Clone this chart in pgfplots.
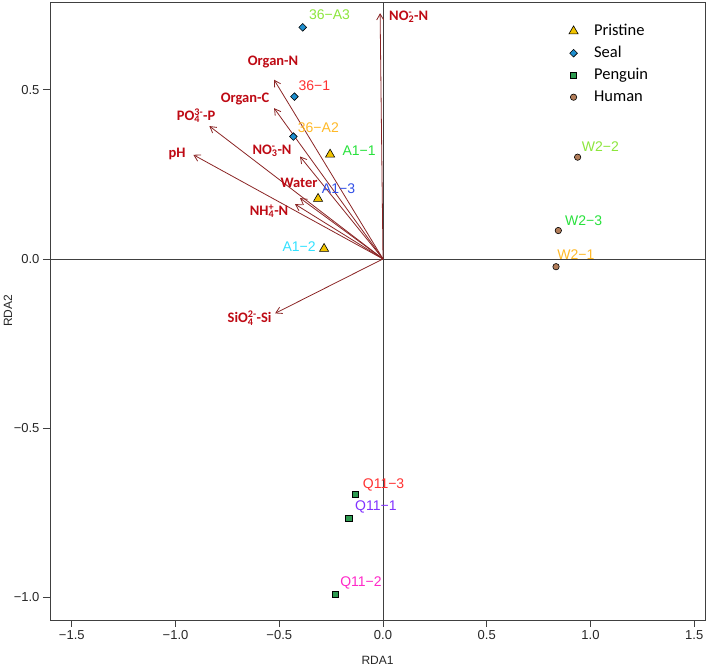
\documentclass[border=0pt]{standalone}
\usepackage{fontspec}
\setmainfont{Liberation Sans}
\newfontfamily\calib{Carlito}
\usepackage{pgfplots}
\pgfplotsset{compat=1.18}
\usetikzlibrary{arrows.meta}
\definecolor{arr}{RGB}{139,37,37}
\definecolor{vlab}{RGB}{190,10,20}
\definecolor{pris}{RGB}{242,196,0}
\definecolor{seal}{RGB}{30,143,207}
\definecolor{peng}{RGB}{46,154,80}
\definecolor{human}{RGB}{178,125,90}
\definecolor{cLG}{RGB}{140,230,60}
\definecolor{cR}{RGB}{255,50,50}
\definecolor{cOr}{RGB}{255,185,40}
\definecolor{cG}{RGB}{40,225,60}
\definecolor{cB}{RGB}{50,80,230}
\definecolor{cC}{RGB}{50,225,255}
\definecolor{cP}{RGB}{130,50,255}
\definecolor{cM}{RGB}{255,40,200}
\newsavebox\sba \newsavebox\sbb
\newcommand\ssp[2]{\sbox\sba{\textsubscript{#1}}\sbox\sbb{\textsuperscript{#2}}%
  \rlap{\usebox\sba}\usebox\sbb\ifdim\wd\sba>\wd\sbb\kern\dimexpr\wd\sba-\wd\sbb\relax\fi}
\begin{document}
\begin{tikzpicture}
\begin{axis}[
  scale only axis, width=655pt, height=618pt,
  xmin=-1.605, xmax=1.552, ymin=-1.068, ymax=0.760,
  axis line style={black!75, line width=0.8pt},
  xtick={-1.5,-1,-0.5,0,0.5,1,1.5},
  xticklabels={−1.5,−1.0,−0.5,0.0,0.5,1.0,1.5},
  ytick={-1,-0.5,0,0.5},
  yticklabels={−1.0,−0.5,0.0,0.5},
  tick align=outside, tick pos=left,
  major tick length=7pt,
  tick style={black!75, line width=0.8pt},
  ticklabel style={font=\fontsize{13}{15}\selectfont, text=black!85},
  xlabel={RDA1}, ylabel={RDA2},
  every axis x label/.style={at={(axis description cs:0.5,-0.0647)}, anchor=center, font=\fontsize{12}{14}\selectfont, text=black!85},
  every axis y label/.style={at={(axis description cs:-0.0641,0.5)}, rotate=90, anchor=center, font=\fontsize{12}{14}\selectfont, text=black!85},
  legend style={at={(axis description cs:0.792,0.966)}, anchor=north west, draw=none, fill=none, inner sep=0pt,
    font=\calib\fontsize{16.5}{18}\selectfont, row sep=6pt, column sep=16pt,
    nodes={inner sep=0pt, text height=12pt, text depth=4pt}},
  legend cell align=left,
  legend image code/.code={\draw[mark repeat=2,mark phase=2,#1] plot coordinates {(0pt,0pt) (5pt,0pt) (10pt,0pt)};},
  clip=false,
  arrw/.style={forget plot, color=arr, line width=0.8pt, -{Straight Barb[length=6pt,width=7pt]}},
]
\draw[black!75, line width=0.8pt] (axis cs:0,-1.068) -- (axis cs:0,0.760);
\draw[black!75, line width=0.8pt] (axis cs:-1.605,0) -- (axis cs:1.552,0);

\addplot[only marks, mark=triangle*, mark size=5.3pt, mark options={fill=pris, draw=black, line width=0.6pt}]
  coordinates {(-0.255,0.309) (-0.313,0.178) (-0.284,0.030)};
\addlegendentry{Pristine}
\addplot[only marks, mark=square*, mark size=2.7pt, mark options={rotate=45, fill=seal, draw=black, line width=0.6pt}]
  coordinates {(-0.387,0.685) (-0.427,0.480) (-0.432,0.362)};
\addlegendentry{Seal}
\addplot[only marks, mark=square*, mark size=3.1pt, mark options={fill=peng, draw=black, line width=0.6pt}]
  coordinates {(-0.135,-0.697) (-0.165,-0.766) (-0.228,-0.993)};
\addlegendentry{Penguin}
\addplot[only marks, mark=*, mark size=3.2pt, mark options={fill=human, draw=black, line width=0.6pt}]
  coordinates {(0.938,0.301) (0.845,0.084) (0.834,-0.023)};
\addlegendentry{Human}

\addplot[arrw] coordinates {(0,0) (-0.014,0.727)};
\addplot[arrw] coordinates {(0,0) (-0.525,0.530)};
\addplot[arrw] coordinates {(0,0) (-0.525,0.446)};
\addplot[arrw] coordinates {(0,0) (-0.837,0.393)};
\addplot[arrw] coordinates {(0,0) (-0.914,0.308)};
\addplot[arrw] coordinates {(0,0) (-0.400,0.303)};
\addplot[arrw] coordinates {(0,0) (-0.400,0.180)};
\addplot[arrw] coordinates {(0,0) (-0.424,0.162)};
\addplot[arrw] coordinates {(0,0) (-0.520,-0.161)};

\tikzset{vl/.style={font=\calib\bfseries\fontsize{14.5}{16}\selectfont, text=vlab, inner sep=0pt}}
\node[vl, anchor=west] at (axis cs:0.029,0.716) {NO\ssp{2}{-}-N};
\node[vl] at (axis cs:-0.530,0.583) {Organ-N};
\node[vl] at (axis cs:-0.665,0.473) {Organ-C};
\node[vl] at (axis cs:-0.901,0.423) {PO\ssp{4}{3-}-P};
\node[vl] at (axis cs:-0.993,0.311) {pH};
\node[vl] at (axis cs:-0.535,0.320) {NO\ssp{3}{-}-N};
\node[vl] at (axis cs:-0.405,0.225) {Water};
\node[vl] at (axis cs:-0.549,0.142) {NH\ssp{4}{+}-N};
\node[vl] at (axis cs:-0.643,-0.175) {SiO\ssp{4}{2-}-Si};

\tikzset{sl/.style={font=\fontsize{14}{16}\selectfont, inner sep=0pt, anchor=west}}
\node[sl, text=cLG] at (axis cs:-0.357,0.721) {36−A3};
\node[sl, text=cR] at (axis cs:-0.408,0.512) {36−1};
\node[sl, text=cOr] at (axis cs:-0.411,0.389) {36−A2};
\node[sl, text=cG] at (axis cs:-0.196,0.320) {A1−1};
\node[sl, text=cB] at (axis cs:-0.295,0.207) {A1−3};
\node[sl, text=cC] at (axis cs:-0.485,0.036) {A1−2};
\node[sl, text=cLG] at (axis cs:0.958,0.333) {W2−2};
\node[sl, text=cG] at (axis cs:0.877,0.112) {W2−3};
\node[sl, text=cOr] at (axis cs:0.840,0.014) {W2−1};
\node[sl, text=cR] at (axis cs:-0.098,-0.669) {Q11−3};
\node[sl, text=cP] at (axis cs:-0.135,-0.735) {Q11−1};
\node[sl, text=cM] at (axis cs:-0.207,-0.959) {Q11−2};
\end{axis}
\pgfresetboundingbox
\path (-50pt,-48pt) rectangle (658pt,620pt);
\end{tikzpicture}
\end{document}
